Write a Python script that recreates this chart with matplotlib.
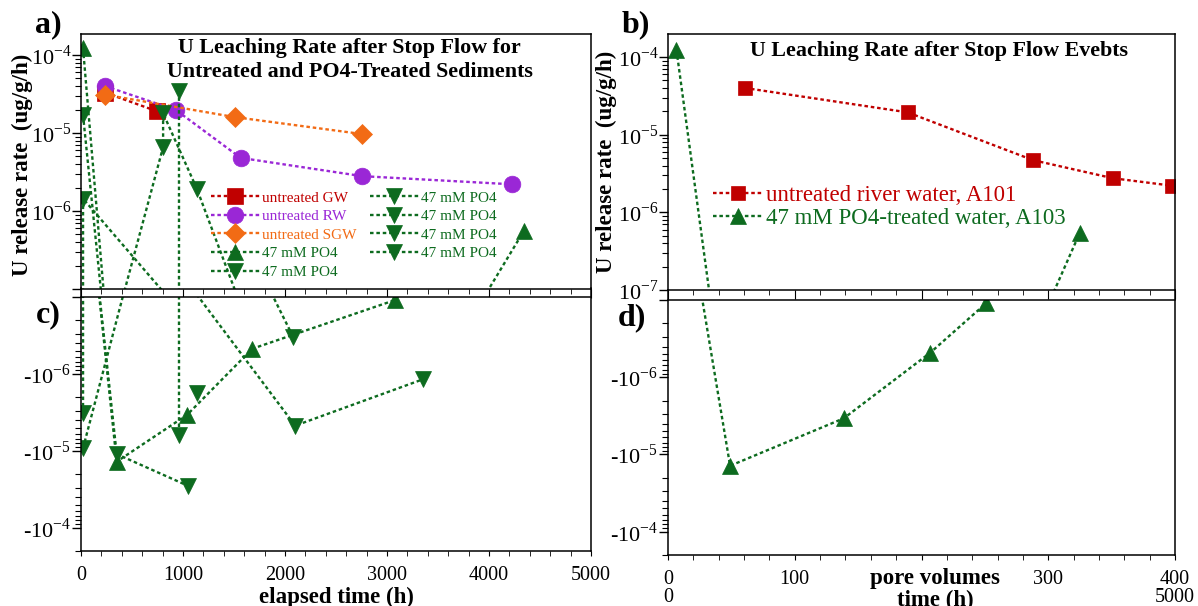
import numpy as np
import matplotlib
matplotlib.use('Agg')
from matplotlib import pyplot as plt
from matplotlib.ticker import FixedLocator, FixedFormatter, MultipleLocator, NullFormatter

plt.rcParams['font.family'] = ['Liberation Serif', 'DejaVu Serif']
plt.rcParams['mathtext.fontset'] = 'custom'
plt.rcParams['mathtext.rm'] = 'Liberation Serif'
plt.rcParams['mathtext.bf'] = 'Liberation Serif:bold'

RED = '#c00000'
PURPLE = '#9a27d6'
ORANGE = '#f26b15'
GREEN = '#0d6b1f'

# ---- panel a / c : elapsed time (h) vs U release rate (ug/g/h)
gw_t = [235, 745]
gw_rate = [3.3e-5, 1.9e-5]
rw_t = [235, 931, 1565, 2755, 4225]
rw_rate = [4.0e-5, 1.97e-5, 4.8e-6, 2.8e-6, 2.2e-6]
sgw_t = [235, 1506, 2755]
sgw_rate = [3.1e-5, 1.6e-5, 9.7e-6]

po4_up_t = [20, 350, 1040, 1680, 3075, 4340]
po4_up_rate = [1.22e-4, -1.38e-5, -3.4e-6, -4.7e-7, -1.1e-7, 5.5e-7]
po4_dn1_t = [20, 350, 1050]
po4_dn1_rate = [1.7e-5, -1.1e-5, -2.85e-5]
po4_dn2_t = [20, 20, 2100, 3355]
po4_dn2_rate = [-3.2e-6, 1.44e-6, -4.7e-6, -1.17e-6]
po4_dn3_t = [20, 805, 805, 1135, 2080]
po4_dn3_rate = [-9.2e-6, 6.6e-6, 1.79e-5, 1.94e-6, -3.3e-7]
po4_dn4_t = [965, 965]
po4_dn4_rate = [3.5e-5, -6.2e-6]
po4_dn5_t = [1135]
po4_dn5_rate = [-1.78e-6]

# ---- panel b / d : pore volumes vs U release rate
rw101_pv = [60.5, 189, 288, 351, 398]
rw101_rate = [4.0e-5, 1.94e-5, 4.7e-6, 2.75e-6, 2.2e-6]
po4_103_pv = [6.7, 49, 138.7, 207, 251, 325]
po4_103_rate = [1.23e-4, -1.4e-5, -3.4e-6, -4.8e-7, -1.1e-7, 5.5e-7]

pv_ticks = [0, 100, 200, 300, 400]
pv_labels = ['0', '100', '', '300', '400']   # 200 sits under the axis title

# wrong-sign points get parked at this value in each log panel (off screen)
FLOOR = 1e-9
LS = (0, (1.5, 1.2))


def draw(ax_top, ax_bot, x, rate, color, marker, ms, label):
    r = np.asarray(rate, dtype=float)
    pos = np.where(r > 0, r, FLOOR)
    neg = np.where(r < 0, -r, FLOOR)
    style = dict(color=color, marker=marker, ms=ms, ls=LS, lw=1.7, mec=color, mew=0.5)
    ax_top.plot(x, pos, label=label, **style)
    ax_bot.plot(x, neg, **style)


W, H = 1198, 606


def box(l, t, r, b):
    return [l / W, 1 - b / H, (r - l) / W, (b - t) / H]


fig = plt.figure(figsize=(W / 100, H / 100), dpi=100)
ax_a = fig.add_axes(box(81, 34, 591, 289))
ax_c = fig.add_axes(box(81, 297, 591, 551))
ax_b = fig.add_axes(box(668, 34, 1175, 290))
ax_d = fig.add_axes(box(668, 300, 1175, 555))

# panel a / c
draw(ax_a, ax_c, gw_t, gw_rate, RED, 's', 11, 'untreated GW')
draw(ax_a, ax_c, rw_t, rw_rate, PURPLE, 'o', 12, 'untreated RW')
draw(ax_a, ax_c, sgw_t, sgw_rate, ORANGE, 'D', 10, 'untreated SGW')
draw(ax_a, ax_c, po4_up_t, po4_up_rate, GREEN, '^', 11, '47 mM PO4')
for t, r in [(po4_dn1_t, po4_dn1_rate), (po4_dn2_t, po4_dn2_rate), (po4_dn3_t, po4_dn3_rate),
             (po4_dn4_t, po4_dn4_rate), (po4_dn5_t, po4_dn5_rate)]:
    draw(ax_a, ax_c, t, r, GREEN, 'v', 11, '47 mM PO4')

# panel b / d
draw(ax_b, ax_d, rw101_pv, rw101_rate, RED, 's', 10.5, 'untreated river water, A101')
draw(ax_b, ax_d, po4_103_pv, po4_103_rate, GREEN, '^', 12, '47 mM PO4-treated water, A103')

decades = [1e-7, 1e-6, 1e-5, 1e-4]
for ax_top, ax_bot, xmax, ymax, gap in [(ax_a, ax_c, 5000, 1.86e-4, 7.6e-8),
                                        (ax_b, ax_d, 400, 1.98e-4, 7.5e-8)]:
    ax_top.set_yscale('log')
    ax_bot.set_yscale('log')
    ax_top.set_ylim(1e-7, ymax)
    ax_bot.set_ylim(2e-4, 1e-7)
    for ax in (ax_top, ax_bot):
        ax.set_xlim(0, xmax)
        ax.yaxis.set_major_locator(FixedLocator(decades))
        ax.yaxis.set_minor_formatter(NullFormatter())
        ax.tick_params(axis='y', which='major', direction='out', length=6.5, width=1,
                       labelsize=16, pad=0.5)
        ax.tick_params(axis='y', which='minor', direction='out', length=4, width=0.8)
        for s in ax.spines.values():
            s.set_linewidth(1.1)
    ax_bot.yaxis.set_major_formatter(FixedFormatter(['', '-10$^{-6}$', '-10$^{-5}$', '-10$^{-4}$']))
    ax_top.tick_params(axis='x', which='major', direction='out', length=6.5, labelbottom=False)
    ax_top.tick_params(axis='x', which='minor', direction='out', length=3.6)
    ax_bot.tick_params(axis='x', which='both', direction='out', length=3.6, labelsize=14.5, pad=7)
    # keep the frame continuous across the small break between the panels
    ax_bot.spines['left'].set_bounds(2e-4, gap)
    ax_bot.spines['right'].set_bounds(2e-4, gap)

ax_a.yaxis.set_major_formatter(FixedFormatter(['', '10$^{-6}$', '10$^{-5}$', '10$^{-4}$']))
ax_b.yaxis.set_major_formatter(FixedFormatter(['10$^{-7}$', '10$^{-6}$', '10$^{-5}$', '10$^{-4}$']))

for ax in (ax_a, ax_c):
    ax.xaxis.set_major_locator(MultipleLocator(1000))
    ax.xaxis.set_minor_locator(MultipleLocator(200))
for ax in (ax_b, ax_d):
    ax.xaxis.set_major_locator(FixedLocator(pv_ticks))
    ax.xaxis.set_minor_locator(MultipleLocator(20))
ax_d.xaxis.set_major_formatter(FixedFormatter(pv_labels))

# second time row under panel d
sec = ax_d.secondary_xaxis(-0.12, functions=(lambda p: p * 12.5, lambda h: h / 12.5))
sec.set_xticks([0, 5000])
sec.tick_params(length=0, labelsize=14.5, pad=2)
sec.spines['bottom'].set_visible(False)

ax_c.set_xlabel('elapsed time (h)', fontweight='bold', fontsize=16.5)
ax_c.xaxis.set_label_coords(0.5, -0.14)
ax_d.set_xlabel('pore volumes', fontweight='bold', fontsize=16.5)
ax_d.xaxis.set_label_coords(0.527, -0.05)
ax_d.text(0.527, -0.135, 'time (h)', transform=ax_d.transAxes, ha='center', va='top',
          fontweight='bold', fontsize=16.5)

ax_a.set_ylabel('U release rate  (ug/g/h)', fontweight='bold', fontsize=16.5)
ax_a.yaxis.set_label_coords(-0.095, 0.485)
ax_b.set_ylabel('U release rate  (ug/g/h)', fontweight='bold', fontsize=16.5)
ax_b.yaxis.set_label_coords(-0.1, 0.5)

ax_a.text(0.527, 0.985, 'U Leaching Rate after Stop Flow for\nUntreated and PO4-Treated Sediments',
          transform=ax_a.transAxes, ha='center', va='top', fontweight='bold', fontsize=15.8,
          linespacing=1.28)
ax_b.text(0.534, 0.935, 'U Leaching Rate after Stop Flow Evebts', transform=ax_b.transAxes,
          ha='center', va='center', fontweight='bold', fontsize=15.8)

ax_a.legend(ncol=2, loc='upper left', bbox_to_anchor=(0.255, 0.385), frameon=False, fontsize=11,
            labelcolor='linecolor', handlelength=3.2, handletextpad=0.15, columnspacing=0.85,
            labelspacing=0.32, borderpad=0, borderaxespad=0, numpoints=1)
ax_b.legend(loc='upper left', bbox_to_anchor=(0.089, 0.41), frameon=False, fontsize=16.5,
            labelcolor='linecolor', handlelength=2.2, handletextpad=0.1, labelspacing=0.1,
            borderpad=0, borderaxespad=0, numpoints=1)

for lab, px, py in [('a)', 48, 25), ('b)', 636, 25), ('c)', 48, 315), ('d)', 632, 318)]:
    fig.text(px / W, 1 - py / H, lab, fontsize=23, fontweight='bold', ha='center', va='center')

plt.savefig('out.png', dpi=100)
